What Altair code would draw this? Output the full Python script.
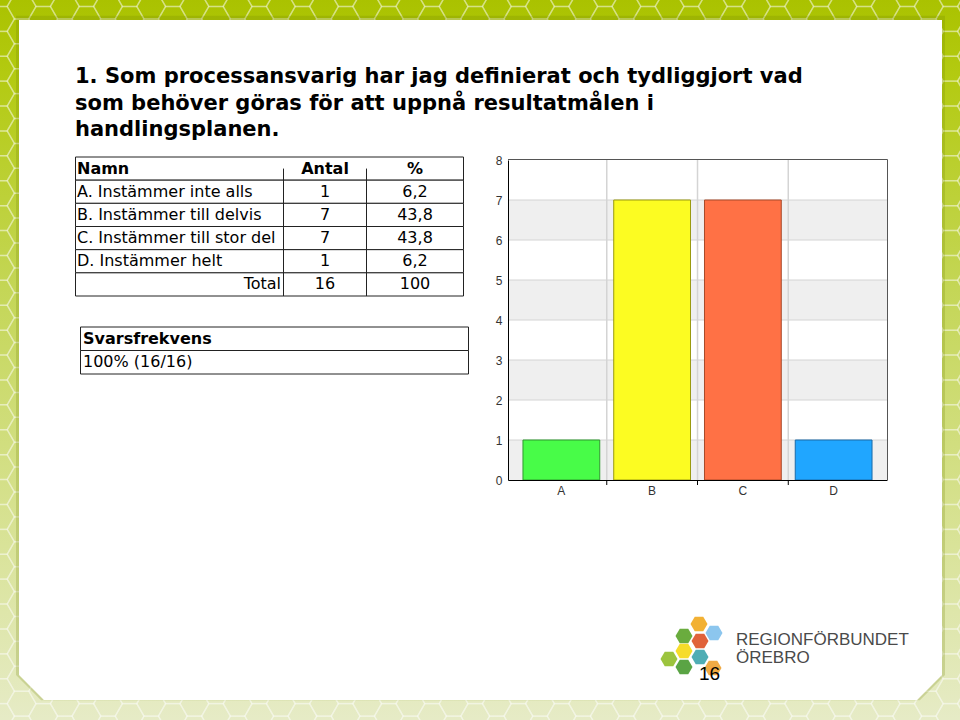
import altair as alt
import pandas as pd

# ---------------- data ----------------
categories = ["A", "B", "C", "D"]
counts = [1, 7, 7, 1]
answer_labels = [
    "A. Instämmer inte alls",
    "B. Instämmer till delvis",
    "C. Instämmer till stor del",
    "D. Instämmer helt",
]
percent_labels = ["6,2", "43,8", "43,8", "6,2"]
total_label = "Total"
total_count = "16"
total_percent = "100"
header_labels = ["Namn", "Antal", "%"]
response_header = "Svarsfrekvens"
response_value = "100% (16/16)"
title_lines = [
    "1. Som processansvarig har jag definierat och tydliggjort vad",
    "som behöver göras för att uppnå resultatmålen i",
    "handlingsplanen.",
]
y_ticks = [0, 1, 2, 3, 4, 5, 6, 7, 8]
logo_lines = ["REGIONFÖRBUNDET", "ÖREBRO"]
page_number = "16"

# ---------------- styles ----------------
bar_fill = ["#48fc48", "#fcfc22", "#ff7145", "#20a6ff"]
bar_stroke = ["#2f9a2f", "#9a9a10", "#a84a2a", "#1a6aa8"]
BODY_FONT = "DejaVu Sans"
AXIS_FONT = "Liberation Sans"

HEX = "M-1,0L-0.5,-0.866L0.5,-0.866L1,0L0.5,0.866L-0.5,0.866Z"
PANEL = "M-1,-0.7367L1,-0.7367L1,0.6827L0.946,0.7367L-0.946,0.7367L-1,0.6827Z"
# decorative logo hexagons (pixel positions, colours)
logo_hex = [
    (699, 624, "#f2b134"), (684, 636, "#6aac3e"), (700, 641, "#e0623a"),
    (714, 633, "#8cc6ee"), (684, 651, "#f6dc2a"), (700, 657, "#4fadb4"),
    (669, 659, "#9cc43e"), (684, 667, "#5aa444"), (713, 668, "#f0aa44"),
]

one = pd.DataFrame({"k": [0]})

# ---------------- slide background ----------------
bg = alt.Chart(one).mark_rect(
    color=alt.LinearGradient(
        gradient="linear", x1=0, x2=0, y1=0, y2=1,
        stops=[
            alt.GradientStop(color="#aac200", offset=0),
            alt.GradientStop(color="#b3ca10", offset=0.1),
            alt.GradientStop(color="#c4d656", offset=0.4),
            alt.GradientStop(color="#d6e18e", offset=0.7),
            alt.GradientStop(color="#e6ebc6", offset=1),
        ],
    )
).encode(x=alt.value(0), x2=alt.value(960), y=alt.value(0), y2=alt.value(720))

# decorative honeycomb texture of the slide background
honeycomb = alt.Chart(alt.sequence(0, 46 * 31, as_="i")).transform_calculate(
    col="floor(datum.i / 31)", row="datum.i % 31"
).transform_calculate(
    px="datum.col * 21.6", py="datum.row * 24.9 + (datum.col % 2) * 12.45 - 6"
).mark_point(shape=HEX, size=830, filled=False, stroke="white", strokeWidth=1.5,
             opacity=0.3).encode(
    x=alt.X("px:Q", scale=None, axis=None), y=alt.Y("py:Q", scale=None, axis=None))

shadow = alt.Chart(one).mark_point(
    shape=PANEL, size=929 ** 2, filled=True, fill="#6f7f00", opacity=0.22, strokeWidth=0
).encode(x=alt.value(480.5), y=alt.value(358))

panel = alt.Chart(one).mark_point(
    shape=PANEL, size=923 ** 2, filled=True, fill="white", opacity=1, strokeWidth=0
).encode(x=alt.value(480.5), y=alt.value(360))

title = alt.Chart(one).mark_text(
    text=title_lines, align="left", baseline="alphabetic", font=BODY_FONT,
    fontSize=21, fontWeight="bold", color="black", lineHeight=26.7,
).encode(x=alt.value(75), y=alt.value(83))

# ---------------- table ----------------
table_df = pd.DataFrame({
    "r": list(range(6)),
    "name": [header_labels[0]] + answer_labels + [total_label],
    "antal": [header_labels[1]] + [str(c) for c in counts] + [total_count],
    "pct": [header_labels[2]] + percent_labels + [total_percent],
})
row_scale = alt.Scale(type="band", domain=list(range(6)), range=[157, 296],
                      paddingInner=0, paddingOuter=0)
row_y = alt.Y("r:O", scale=row_scale, axis=None)
row_yc = alt.Y("r:O", scale=row_scale, axis=None, bandPosition=0.5)

tbl_base = alt.Chart(table_df)
tbl_rows = tbl_base.mark_rect(fill="white", stroke="#222", strokeWidth=1).encode(
    y=row_y, x=alt.value(75.5), x2=alt.value(463.5))
tbl_v1 = tbl_base.mark_rule(color="#222").encode(
    y=row_y, y2=alt.value(296), x=alt.value(283.5)).transform_filter("datum.r == 0")
tbl_v2 = tbl_base.mark_rule(color="#222").encode(
    y=row_y, y2=alt.value(296), x=alt.value(366.5)).transform_filter("datum.r == 0")

txt = dict(font=BODY_FONT, fontSize=16, color="black", baseline="middle")
tbl_head_name = tbl_base.mark_text(align="left", fontWeight="bold", **txt).encode(
    y=row_yc, x=alt.value(77), text="name:N").transform_filter("datum.r == 0")
tbl_head_antal = tbl_base.mark_text(align="center", fontWeight="bold", **txt).encode(
    y=row_yc, x=alt.value(325), text="antal:N").transform_filter("datum.r == 0")
tbl_head_pct = tbl_base.mark_text(align="center", fontWeight="bold", **txt).encode(
    y=row_yc, x=alt.value(415), text="pct:N").transform_filter("datum.r == 0")
tbl_names = tbl_base.mark_text(align="left", **txt).encode(
    y=row_yc, x=alt.value(77), text="name:N").transform_filter("datum.r > 0 && datum.r < 5")
tbl_total = tbl_base.mark_text(align="right", **txt).encode(
    y=row_yc, x=alt.value(281), text="name:N").transform_filter("datum.r == 5")
tbl_antal = tbl_base.mark_text(align="center", **txt).encode(
    y=row_yc, x=alt.value(325), text="antal:N").transform_filter("datum.r > 0")
tbl_pct = tbl_base.mark_text(align="center", **txt).encode(
    y=row_yc, x=alt.value(415), text="pct:N").transform_filter("datum.r > 0")

table = alt.layer(tbl_rows, tbl_v1, tbl_v2, tbl_head_name, tbl_head_antal,
                  tbl_head_pct, tbl_names, tbl_total, tbl_antal, tbl_pct)

# ---------------- response-rate box ----------------
resp_df = pd.DataFrame({"r": [0, 1], "t": [response_header, response_value]})
resp_scale = alt.Scale(type="band", domain=[0, 1], range=[327, 374],
                       paddingInner=0, paddingOuter=0)
resp_base = alt.Chart(resp_df)
resp_rows = resp_base.mark_rect(fill="white", stroke="#222", strokeWidth=1).encode(
    y=alt.Y("r:O", scale=resp_scale, axis=None), x=alt.value(80.5), x2=alt.value(468.5))
resp_head = resp_base.mark_text(align="left", fontWeight="bold", **txt).encode(
    y=alt.Y("r:O", scale=resp_scale, axis=None, bandPosition=0.5),
    x=alt.value(83), text="t:N").transform_filter("datum.r == 0")
resp_val = resp_base.mark_text(align="left", **txt).encode(
    y=alt.Y("r:O", scale=resp_scale, axis=None, bandPosition=0.5),
    x=alt.value(83), text="t:N").transform_filter("datum.r == 1")
resp = alt.layer(resp_rows, resp_head, resp_val)

# ---------------- bar chart ----------------
bars_df = pd.DataFrame({"cat": categories, "count": counts,
                        "fill": bar_fill, "stroke": bar_stroke})
xs = alt.Scale(domain=categories, range=[508, 887], paddingInner=0.154, paddingOuter=0.165)
ys = alt.Scale(domain=[0, 8], range=[480, 160], nice=False, zero=True)
x_axis = alt.Axis(title=None, offset=-240, labelAngle=0, ticks=False, domainColor="black",
                  domainWidth=1, labelFont=AXIS_FONT, labelFontSize=12, labelColor="#333",
                  labelPadding=5, grid=False, zindex=2)
y_axis = alt.Axis(title=None, offset=-508, values=y_ticks, ticks=False, domainColor="black",
                  domainWidth=1, labelFont=AXIS_FONT, labelFontSize=12, labelColor="#333",
                  labelPadding=6, grid=False, zindex=2)

stripes = alt.Chart(pd.DataFrame({"lo": y_ticks[0:-1:2]})).transform_calculate(
    hi="datum.lo + 1").mark_rect(color="#efefef").encode(
    y=alt.Y("lo:Q", scale=ys, axis=y_axis), y2="hi:Q",
    x=alt.value(508), x2=alt.value(887))
hgrid = alt.Chart(pd.DataFrame({"v": y_ticks[1:-1]})).mark_rule(
    color="#d4d4d4", strokeWidth=1).encode(
    y=alt.Y("v:Q", scale=ys, axis=y_axis), x=alt.value(508), x2=alt.value(887))
vgrid = alt.Chart(pd.DataFrame({"cat": categories[:-1]})).mark_rule(
    color="#d4d4d4", strokeWidth=1.5, xOffset=7).encode(
    x=alt.X("cat:N", scale=xs, axis=x_axis, bandPosition=1),
    y=alt.value(160), y2=alt.value(480))
xticks = alt.Chart(pd.DataFrame({"cat": categories[:-1]})).mark_rule(
    color="black", strokeWidth=1, xOffset=7).encode(
    x=alt.X("cat:N", scale=xs, axis=x_axis, bandPosition=1),
    y=alt.value(480), y2=alt.value(485))
bars = alt.Chart(bars_df).mark_bar(strokeWidth=1).encode(
    x=alt.X("cat:N", scale=xs, axis=x_axis),
    y=alt.Y("count:Q", scale=ys, axis=y_axis),
    fill=alt.Fill("fill:N", scale=None),
    stroke=alt.Stroke("stroke:N", scale=None),
)
frame_top = alt.Chart(one).mark_rule(color="#555", strokeWidth=1).encode(
    x=alt.value(508), x2=alt.value(887.5), y=alt.value(159.5))
frame_right = alt.Chart(one).mark_rule(color="#555", strokeWidth=1).encode(
    x=alt.value(887.5), y=alt.value(159.5), y2=alt.value(480))

chart_panel = alt.layer(stripes, hgrid, vgrid, xticks, bars, frame_top, frame_right)

# ---------------- logo ----------------
logo_df = pd.DataFrame(logo_hex, columns=["hx", "hy", "hc"])
logo_hexes = alt.Chart(logo_df).mark_point(
    shape=HEX, size=290, filled=True, opacity=1, strokeWidth=0).encode(
    x=alt.X("hx:Q", scale=None, axis=None),
    y=alt.Y("hy:Q", scale=None, axis=None),
    fill=alt.Fill("hc:N", scale=None))
logo_text = alt.Chart(one).mark_text(
    text=logo_lines, align="left", baseline="alphabetic", font=AXIS_FONT,
    fontSize=17, color="#4a4a4a", lineHeight=17.5).encode(
    x=alt.value(736), y=alt.value(645))
page = alt.Chart(one).mark_text(
    text=page_number, align="left", baseline="alphabetic", font=AXIS_FONT,
    fontSize=19, color="black").encode(x=alt.value(699), y=alt.value(680))

chart = alt.layer(
    bg, honeycomb, shadow, panel, title, table, resp, chart_panel,
    logo_hexes, logo_text, page
).resolve_scale(x="independent", y="independent").properties(
    width=960, height=720, padding=0,
    autosize=alt.AutoSizeParams(type="none"),
).configure_view(stroke=None)

chart.save("out.html", embed_options={"renderer": "svg", "actions": False})
